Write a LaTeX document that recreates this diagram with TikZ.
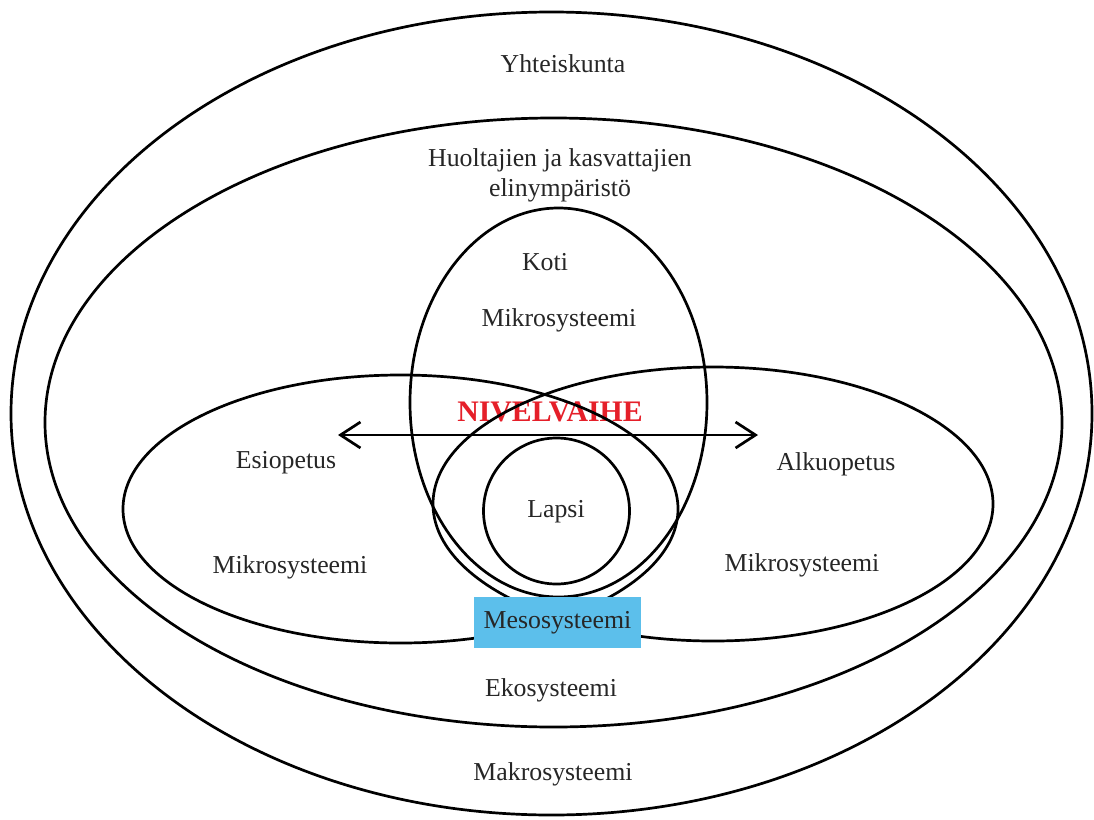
\documentclass[tikz,border=0pt]{standalone}
\usepackage{fontspec}
\setmainfont{Liberation Serif}
\usetikzlibrary{shapes, arrows, arrows.meta, positioning}
\definecolor{nivelred}{rgb}{0.90, 0.12, 0.16}
\definecolor{mesoblue}{rgb}{0.36, 0.75, 0.92}
\tikzset{ring/.style={draw, ellipse, line width=2.7pt, inner sep=0pt}}
\tikzset{lbl/.style={font=\fontsize{25.8}{30}\selectfont, text=black!85, inner sep=0pt, anchor=base}}

\begin{document}
\begin{tikzpicture}[x=1pt, y=-1pt]
        \useasboundingbox (0,0) rectangle (1094,819);

        \node[lbl, font=\bfseries\fontsize{29.8}{33}\selectfont, text=nivelred] (Nivel) at (550, 421) {NIVELVAIHE};

        \node[ring, minimum width=1081pt, minimum height=803pt] (Makro) at (551.5, 413.5) {};
        \node[ring, minimum width=1017pt, minimum height=609pt] (Eko) at (553.5, 422.5) {};
        \node[ring, minimum width=297pt, minimum height=389pt] (Koti) at (558.5, 402.5) {};
        \node[ring, minimum width=555pt, minimum height=268pt] (Esi) at (400.5, 509) {};
        \node[ring, minimum width=560pt, minimum height=274pt] (Alku) at (713, 504) {};
        \node[ring, circle, minimum size=146pt] (Lapsi) at (556.5, 511) {};

        \node[lbl] (LYht) at (563, 72) {Yhteiskunta};
        \node[lbl, anchor=center, align=center] (LHuol) at (560, 175) {Huoltajien ja kasvattajien\\elinympäristö};
        \node[lbl] (LKoti) at (545, 270) {Koti};
        \node[lbl] (LKotiMik) at (559, 326) {Mikrosysteemi};
        \node[lbl] (LEsi) at (286, 468) {Esiopetus};
        \node[lbl] (LEsiMik) at (290, 573) {Mikrosysteemi};
        \node[lbl] (LAlku) at (836, 470) {Alkuopetus};
        \node[lbl] (LAlkuMik) at (802, 571) {Mikrosysteemi};
        \node[lbl] (LLapsi) at (556, 517) {Lapsi};
        \node[lbl] (LEko) at (551, 696) {Ekosysteemi};
        \node[lbl] (LMakro) at (553, 780) {Makrosysteemi};

        \node[fill=mesoblue, minimum width=167pt, minimum height=51pt, inner sep=0pt,
              text=black!85, font=\fontsize{25.8}{30}\selectfont] (Meso) at (557.5, 622.5) {Mesosysteemi};

        \coordinate (ArrL) at (338, 435);
        \coordinate (ArrR) at (758, 435);
        \draw[line width=2.7pt, {Straight Barb[length=20pt, width=26pt]}-{Straight Barb[length=20pt, width=26pt]}] (ArrL) -- (ArrR);
\end{tikzpicture}
\end{document}
